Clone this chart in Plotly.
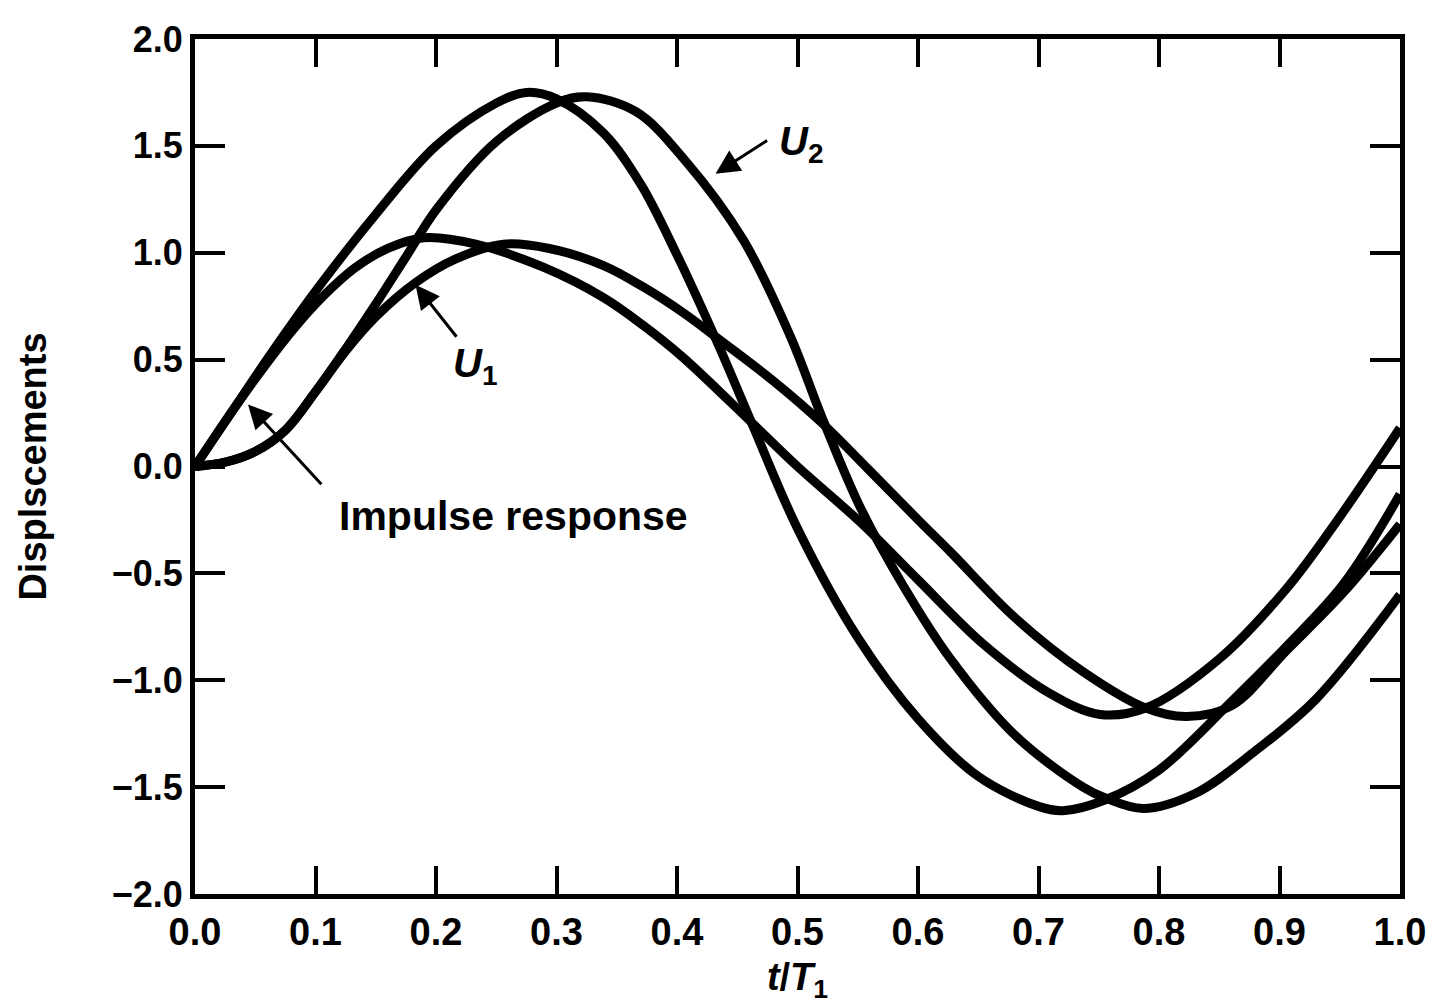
import plotly.graph_objects as go

# (t/T1, displacement)
t_imp2 = [0, 0.025, 0.05, 0.077, 0.10, 0.15, 0.20, 0.25, 0.275, 0.30, 0.339, 0.37, 0.40,
          0.435, 0.463, 0.50, 0.55, 0.60, 0.65, 0.70, 0.72, 0.755, 0.80, 0.86, 0.906,
          0.953, 1.0]
u_imp2 = [0, 0.21, 0.42, 0.64, 0.82, 1.18, 1.50, 1.70, 1.75, 1.72, 1.56, 1.32, 0.99,
          0.56, 0.19, -0.29, -0.80, -1.18, -1.45, -1.59, -1.61, -1.56, -1.42, -1.10, -0.84,
          -0.55, -0.13]

t_imp1 = [0, 0.025, 0.05, 0.077, 0.10, 0.133, 0.16, 0.19, 0.233, 0.29, 0.339, 0.372, 0.405,
          0.463, 0.50, 0.552, 0.60, 0.654, 0.709, 0.751, 0.789, 0.85, 0.906, 0.947, 1.0]
u_imp1 = [0, 0.21, 0.41, 0.61, 0.76, 0.93, 1.02, 1.07, 1.04, 0.93, 0.79, 0.66, 0.51,
          0.20, 0.00, -0.26, -0.53, -0.83, -1.06, -1.16, -1.13, -0.90, -0.57, -0.26, 0.18]

t_u2 = [0, 0.025, 0.05, 0.075, 0.10, 0.125, 0.15, 0.175, 0.20, 0.25, 0.30, 0.325, 0.366,
        0.407, 0.455, 0.494, 0.521, 0.552, 0.588, 0.627, 0.681, 0.737, 0.755, 0.787, 0.83,
        0.88, 0.93, 1.0]
u_u2 = [0, 0.02, 0.07, 0.17, 0.35, 0.55, 0.76, 0.98, 1.20, 1.52, 1.70, 1.73, 1.66,
        1.43, 1.06, 0.61, 0.22, -0.19, -0.56, -0.90, -1.26, -1.50, -1.55, -1.60, -1.53,
        -1.33, -1.09, -0.60]

t_u1 = [0, 0.025, 0.05, 0.075, 0.10, 0.125, 0.15, 0.183, 0.216, 0.256, 0.294, 0.339,
        0.372, 0.405, 0.436, 0.48, 0.521, 0.56, 0.602, 0.627, 0.681, 0.737, 0.789, 0.823,
        0.86, 0.906, 0.953, 1.0]
u_u1 = [0, 0.02, 0.07, 0.17, 0.35, 0.54, 0.70, 0.86, 0.97, 1.04, 1.02, 0.94,
        0.84, 0.72, 0.59, 0.40, 0.20, -0.02, -0.26, -0.40, -0.71, -0.96, -1.13, -1.17,
        -1.12, -0.86, -0.59, -0.27]

x_ticks = [0.0, 0.1, 0.2, 0.3, 0.4, 0.5, 0.6, 0.7, 0.8, 0.9, 1.0]
y_ticks = [-2.0, -1.5, -1.0, -0.5, 0.0, 0.5, 1.0, 1.5, 2.0]
y_labels = ['\u22122.0', '\u22121.5', '\u22121.0', '\u22120.5', '0.0', '0.5', '1.0', '1.5', '2.0']

FONT = 'Liberation Sans, Arial, sans-serif'

fig = go.Figure()
for tt, uu in [(t_imp2, u_imp2), (t_imp1, u_imp1), (t_u2, u_u2), (t_u1, u_u1)]:
    fig.add_trace(go.Scatter(x=tt, y=uu, mode='lines', showlegend=False,
                             line=dict(color='black', width=9, shape='spline', smoothing=1.0)))

# labels and arrows
def arrow(x, y, ax, ay):
    fig.add_annotation(x=x, y=y, ax=ax, ay=ay, xref='x', yref='y', axref='x', ayref='y',
                       text='', showarrow=True, arrowhead=2, arrowsize=1.6, arrowwidth=3,
                       arrowcolor='black', standoff=0, startstandoff=0)

def label(x, y, txt, size=40):
    fig.add_annotation(x=x, y=y, xref='x', yref='y', text=txt, showarrow=False,
                       font=dict(family=FONT, size=size, color='black', weight='bold'))

arrow(0.432, 1.37, 0.476, 1.53)
label(0.503, 1.51, '<i>U</i><sub>2</sub>')
arrow(0.183, 0.85, 0.218, 0.60)
label(0.232, 0.47, '<i>U</i><sub>1</sub>')
arrow(0.044, 0.29, 0.106, -0.09)
label(0.264, -0.23, 'Impulse response', 41)

fig.update_xaxes(range=[0, 1.0], tickvals=x_ticks, ticktext=['%.1f' % v for v in x_ticks],
                 showline=True, linecolor='black', linewidth=5, mirror='ticks',
                 ticks='inside', ticklen=28, tickwidth=4, tickcolor='black',
                 showgrid=False, zeroline=False, automargin=False,
                 tickfont=dict(family=FONT, size=38, color='black', weight='bold'),
                 title=dict(text='<i>t</i>/<i>T</i><sub>1</sub>', standoff=13,
                            font=dict(family=FONT, size=38, color='black', weight='bold')))
fig.update_yaxes(range=[-2.0, 2.0], tickvals=y_ticks, ticktext=y_labels,
                 showline=True, linecolor='black', linewidth=5, mirror='ticks',
                 ticks='inside', ticklen=30, tickwidth=4, tickcolor='black',
                 showgrid=False, zeroline=False, automargin=False,
                 tickfont=dict(family=FONT, size=36, color='black', weight='bold'),
                 title=dict(text='Displscements', standoff=55,
                            font=dict(family=FONT, size=38, color='black', weight='bold')))

fig.update_layout(width=1438, height=1005, plot_bgcolor='white', paper_bgcolor='white',
                  margin=dict(l=187, r=46, t=31, b=119))

fig.write_html('out.html')
